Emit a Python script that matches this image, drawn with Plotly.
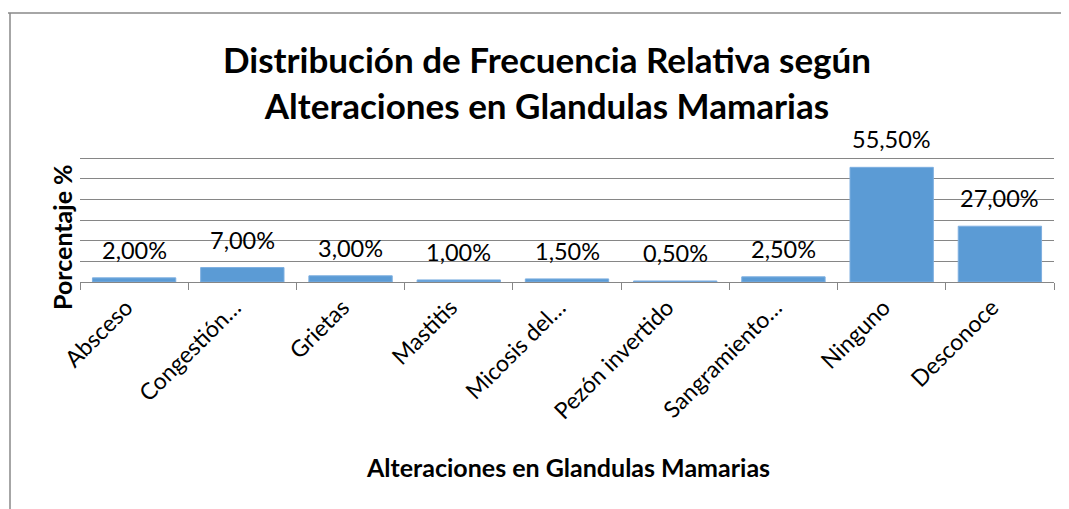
import plotly.graph_objects as go

categories = ["Absceso", "Congestión…", "Grietas", "Mastitis", "Micosis del…",
              "Pezón invertido", "Sangramiento…", "Ninguno", "Desconoce"]
values = [2.0, 7.0, 3.0, 1.0, 1.5, 0.5, 2.5, 55.5, 27.0]
labels = [f"{v:.2f}%".replace(".", ",") for v in values]

title_text = "Distribución de Frecuencia Relativa según<br>Alteraciones en Glandulas Mamarias"
x_title = "Alteraciones en Glandulas Mamarias"
y_title = "Porcentaje %"

FONT = "Lato, Carlito, Calibri, sans-serif"

# page geometry (window pixels); browser body margin is 8px
OFF = 8
WIN_W, WIN_H = 1069, 509
W, H = WIN_W - OFF, WIN_H - OFF
L, R, B = 80, 1054, 282
YMAX = 60.5
PX_PER_UNIT = (282 - 158) / 60.0
T = B - YMAX * PX_PER_UNIT


def px_x(p):
    return (p - L) / (R - L)


def px_y(p):
    return (B - p) / (B - T)


fig = go.Figure()
fig.add_trace(go.Bar(
    x=categories, y=values,
    marker=dict(color="#5B9BD5", line=dict(color="#7EAFE0", width=1)),
    hoverinfo="skip",
))

for c, v, t in zip(categories, values, labels):
    fig.add_annotation(x=c, y=v, text=t, showarrow=False, yanchor="middle",
                       xanchor="center", yshift=28,
                       font=dict(family=FONT, size=23.5, color="#000000"))

# Chart border (top and left)
fig.add_shape(type="line", xref="paper", yref="paper",
              x0=px_x(OFF), x1=px_x(WIN_W + 5), y0=px_y(13), y1=px_y(13),
              line=dict(color="#888888", width=1.5))
fig.add_shape(type="line", xref="paper", yref="paper",
              x0=px_x(10), x1=px_x(10), y0=px_y(13), y1=px_y(WIN_H + 5),
              line=dict(color="#888888", width=1.5))

fig.add_annotation(xref="paper", yref="paper", x=px_x(62), y=px_y(237),
                   xanchor="center", yanchor="middle",
                   text=f"<b>{y_title}</b>", textangle=-90, showarrow=False,
                   font=dict(family=FONT, size=25, color="#000000"))
fig.add_annotation(xref="paper", yref="paper", x=px_x(568), y=px_y(467),
                   xanchor="center", yanchor="middle",
                   text=f"<b>{x_title}</b>", showarrow=False,
                   font=dict(family=FONT, size=25, color="#000000"))

fig.update_layout(
    width=W, height=H,
    margin=dict(l=L - OFF, r=WIN_W - R, t=T - OFF, b=WIN_H - B, pad=0),
    paper_bgcolor="white", plot_bgcolor="white",
    showlegend=False,
    bargap=0.23,
    title=dict(text=f"<b>{title_text}</b>", x=(547 - OFF) / W, xanchor="center",
               y=1 - (73 - OFF) / H, yanchor="middle",
               font=dict(family=FONT, size=35, color="#000000")),
    xaxis=dict(type="category", tickangle=-45, tickson="boundaries",
               ticks="outside", ticklen=7, tickcolor="#868686",
               ticklabelshift=-8, ticklabelstandoff=2,
               showline=True, linecolor="#868686", linewidth=1,
               tickfont=dict(family=FONT, size=23, color="#000000"),
               showgrid=False),
    yaxis=dict(range=[0, YMAX], dtick=10, showticklabels=False,
               showgrid=True, gridcolor="#868686", gridwidth=1,
               zeroline=False, showline=False, ticks=""),
)

fig.write_html("out.html")
